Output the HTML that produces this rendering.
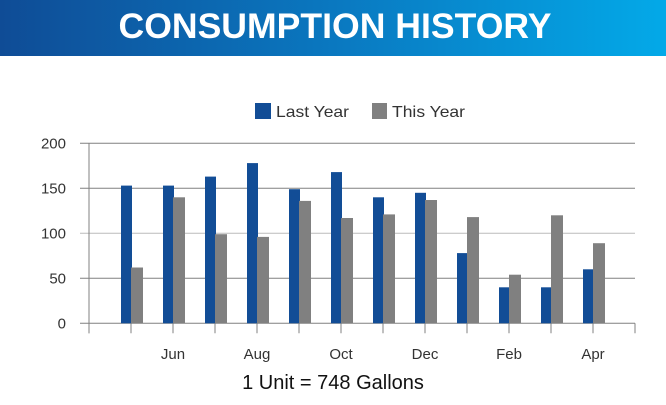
<!DOCTYPE html>
<html><head><meta charset="utf-8"><style>
html,body{margin:0;padding:0;background:#fff;width:666px;height:405px;overflow:hidden}
text{font-family:"Liberation Sans",Arial,sans-serif}
</style></head><body>
<svg width="666" height="405" viewBox="0 0 666 405">
<defs><linearGradient id="hg" x1="0" x2="1" y1="0" y2="0"><stop offset="0" stop-color="#0f4c96"/><stop offset="0.5" stop-color="#0a78c0"/><stop offset="1" stop-color="#03a9e8"/></linearGradient></defs>
<rect x="0" y="0" width="666" height="56" fill="url(#hg)"/>
<text x="335" y="38" text-anchor="middle" font-size="35" font-weight="bold" fill="#fff" textLength="433" lengthAdjust="spacingAndGlyphs">CONSUMPTION HISTORY</text>
<g>
<rect x="255" y="103" width="16" height="16" fill="#124d96"/>
<text x="276" y="117" font-size="16" fill="#333" textLength="73" lengthAdjust="spacingAndGlyphs">Last Year</text>
<rect x="372" y="103" width="15" height="16" fill="#808080"/>
<text x="392" y="117" font-size="16" fill="#333" textLength="73" lengthAdjust="spacingAndGlyphs">This Year</text>
</g>
<g id="grid"></g><g id="bars"></g><g id="axes"></g>
<text x="333" y="389" text-anchor="middle" font-size="20" fill="#111">1 Unit = 748 Gallons</text>
</svg>
<script>
const months=["May","Jun","Jul","Aug","Sep","Oct","Nov","Dec","Jan","Feb","Mar","Apr"];
const lastYear=[153,153,163,178,149,168,140,145,78,40,40,60];
const thisYear=[62,140,99,96,136,117,121,137,118,54,120,89];
const yTicks=[0,50,100,150,200];
const shownLabels=["Jun","Aug","Oct","Dec","Feb","Apr"];
const NS="http://www.w3.org/2000/svg";
const y0=323.3,yMax=143.3,vMax=200,x0=89,step=42,plotRight=635;
const yScale=v=>y0-(v/vMax)*(y0-yMax);
const xCenter=i=>x0+step*(i+1);
function mk(tag,attrs,parent){const e=document.createElementNS(NS,tag);for(const k in attrs)e.setAttribute(k,attrs[k]);document.getElementById(parent).appendChild(e);return e;}
yTicks.forEach(t=>{
 const l=mk("line",{x1:80,x2:plotRight,y1:yScale(t),y2:yScale(t),stroke:t===100?"#bbb":"#808080","stroke-width":1},"grid");
 
 
 const tx=mk("text",{x:66,y:yScale(t)+5,"text-anchor":"end","font-size":15,fill:"#333"},"axes");
 tx.textContent=t;
 
 
});
const ax=mk("line",{x1:x0,x2:x0,y1:yMax,y2:y0+10,stroke:"#808080"},"axes");


for(let i=-1;i<months.length+1;i++){
 const tk=mk("line",{x1:xCenter(i),x2:xCenter(i),y1:y0,y2:y0+10,stroke:"#808080"},"axes");
 
 
}
months.forEach((m,i)=>{
 const c=xCenter(i);
 const b=mk("rect",{x:c-10,y:yScale(lastYear[i]),width:11,height:y0-yScale(lastYear[i]),fill:"#124d96"},"bars");
 
 
 const g=mk("rect",{x:c,y:yScale(thisYear[i]),width:12,height:y0-yScale(thisYear[i]),fill:"#808080"},"bars");
 
 
 if(shownLabels.includes(m)){
  const t=mk("text",{x:c,y:359,"text-anchor":"middle","font-size":15,fill:"#333"},"axes");
  t.textContent=m;
  
  
 }
});
</script>
</body></html>
